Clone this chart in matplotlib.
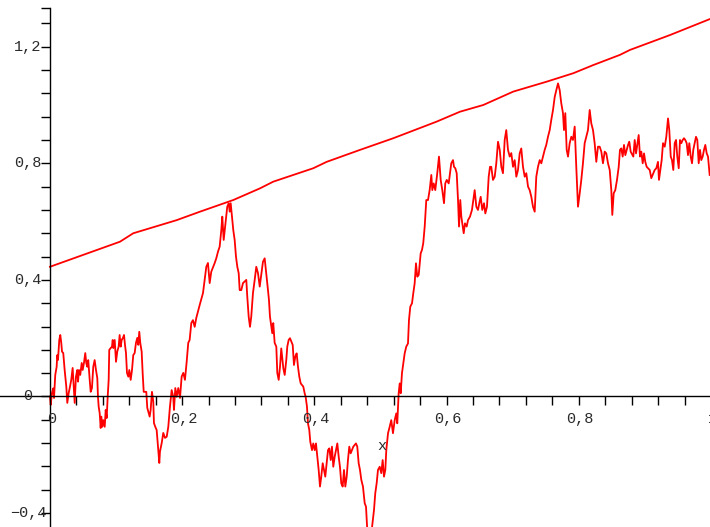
import numpy as np
import matplotlib.pyplot as plt
from matplotlib.ticker import MultipleLocator

# sampled Brownian path W(t) on [0, 1]
bm_t = [
    0.0000, 0.0011, 0.0030, 0.0050, 0.0061, 0.0080, 0.0101, 0.0110, 0.0121, 0.0141,
    0.0156, 0.0171, 0.0182, 0.0201, 0.0222, 0.0247, 0.0262, 0.0283, 0.0303, 0.0322,
    0.0343, 0.0359, 0.0374, 0.0393, 0.0413, 0.0424, 0.0439, 0.0458, 0.0480, 0.0495,
    0.0514, 0.0534, 0.0549, 0.0564, 0.0579, 0.0601, 0.0616, 0.0635, 0.0655, 0.0676,
    0.0696, 0.0716, 0.0726, 0.0737, 0.0752, 0.0767, 0.0776, 0.0791, 0.0806, 0.0828,
    0.0843, 0.0858, 0.0873, 0.0888, 0.0897, 0.0918, 0.0938, 0.0949, 0.0958, 0.0979,
    0.0999, 0.1018, 0.1039, 0.1054, 0.1070, 0.1085, 0.1104, 0.1120, 0.1135, 0.1150,
    0.1165, 0.1185, 0.1200, 0.1221, 0.1241, 0.1260, 0.1281, 0.1301, 0.1321, 0.1336,
    0.1351, 0.1366, 0.1387, 0.1402, 0.1418, 0.1457, 0.1472, 0.1493, 0.1508, 0.1523,
    0.1543, 0.1563, 0.1573, 0.1593, 0.1614, 0.1634, 0.1654,
    0.1664, 0.1690, 0.1714, 0.1740, 0.1766, 0.1790, 0.1815, 0.1841, 0.1865, 0.1876,
    0.1896, 0.1917, 0.1941, 0.1967, 0.1992, 0.2017, 0.2042, 0.2068, 0.2092, 0.2113,
    0.2138, 0.2163, 0.2189, 0.2213, 0.2265, 0.2315, 0.2365, 0.2390, 0.2416, 0.2440,
    0.2492, 0.2516, 0.2542, 0.2567, 0.2592, 0.2607, 0.2628, 0.2667, 0.2682, 0.2704,
    0.2719, 0.2734, 0.2753, 0.2773, 0.2794, 0.2814, 0.2834, 0.2855, 0.2870, 0.2894,
    0.2920, 0.2970, 0.2985, 0.3006, 0.3026, 0.3045, 0.3071, 0.3097, 0.3121, 0.3147,
    0.3173, 0.3222, 0.3248, 0.3272, 0.3298, 0.3313, 0.3328,
    0.3363, 0.3378, 0.3399, 0.3424, 0.3439, 0.3460, 0.3480, 0.3499, 0.3530, 0.3551,
    0.3575, 0.3590, 0.3611, 0.3631, 0.3672, 0.3691, 0.3711, 0.3732, 0.3752, 0.3772,
    0.3793, 0.3832, 0.3853, 0.3868, 0.3888, 0.3903, 0.3923, 0.3938, 0.3964, 0.3983,
    0.4005, 0.4024, 0.4044, 0.4065, 0.4085, 0.4104, 0.4126, 0.4165, 0.4186, 0.4206,
    0.4226, 0.4247, 0.4266, 0.4286, 0.4307, 0.4347, 0.4368, 0.4387, 0.4407, 0.4428,
    0.4448, 0.4468, 0.4489, 0.4508, 0.4528, 0.4549, 0.4589, 0.4629, 0.4649, 0.4670,
    0.4690, 0.4710, 0.4735, 0.4761, 0.4781, 0.4800, 0.4826, 0.4852, 0.4871, 0.4902,
    0.4921, 0.4942, 0.4962,
    0.4988, 0.5012, 0.5033, 0.5053, 0.5073, 0.5088, 0.5114, 0.5139, 0.5163, 0.5189,
    0.5215, 0.5239, 0.5254, 0.5275, 0.5291, 0.5306, 0.5325, 0.5345, 0.5366, 0.5390,
    0.5416, 0.5431, 0.5451, 0.5477, 0.5496, 0.5517, 0.5537, 0.5557, 0.5578, 0.5608,
    0.5628, 0.5647, 0.5669, 0.5693, 0.5719, 0.5744, 0.5769, 0.5784, 0.5805, 0.5829,
    0.5859, 0.5885, 0.5911, 0.5935, 0.5961, 0.5980, 0.6002, 0.6032, 0.6052, 0.6071,
    0.6097, 0.6112, 0.6132, 0.6153, 0.6173, 0.6188, 0.6207, 0.6223, 0.6244, 0.6259,
    0.6278, 0.6304, 0.6324, 0.6354, 0.6384, 0.6425, 0.6450, 0.6475, 0.6495, 0.6516,
    0.6540, 0.6566, 0.6586, 0.6611, 0.6637, 0.6657,
    0.6676, 0.6702, 0.6728, 0.6752, 0.6778, 0.6804, 0.6828, 0.6853, 0.6879, 0.6903,
    0.6929, 0.6955, 0.6979, 0.7005, 0.7030, 0.7055, 0.7080, 0.7106, 0.7130, 0.7156,
    0.7182, 0.7206, 0.7232, 0.7257, 0.7282, 0.7307, 0.7333, 0.7357, 0.7383, 0.7409,
    0.7433, 0.7459, 0.7484, 0.7508, 0.7534, 0.7560, 0.7584, 0.7610, 0.7636, 0.7660,
    0.7686, 0.7711, 0.7735, 0.7761, 0.7776, 0.7796, 0.7817, 0.7837, 0.7862, 0.7887,
    0.7912, 0.7938, 0.7962, 0.7988, 0.8014, 0.8038, 0.8063, 0.8089, 0.8113, 0.8139,
    0.8165, 0.8189, 0.8215, 0.8240, 0.8265, 0.8290,
    0.8316, 0.8341, 0.8366, 0.8392, 0.8416, 0.8442, 0.8468, 0.8492, 0.8507, 0.8528,
    0.8552, 0.8578, 0.8604, 0.8623, 0.8643, 0.8664, 0.8684, 0.8704, 0.8725, 0.8745,
    0.8764, 0.8785, 0.8825, 0.8846, 0.8866, 0.8906, 0.8926, 0.8946, 0.8967, 0.8987,
    0.9006, 0.9027, 0.9073, 0.9097, 0.9148, 0.9173, 0.9198, 0.9213, 0.9233, 0.9254,
    0.9274, 0.9300, 0.9324, 0.9350, 0.9369, 0.9391, 0.9410, 0.9430, 0.9451, 0.9471,
    0.9490, 0.9512, 0.9531, 0.9551, 0.9572, 0.9592, 0.9611, 0.9632, 0.9652, 0.9672,
    0.9693, 0.9713, 0.9732, 0.9753, 0.9773, 0.9793, 0.9814, 0.9834, 0.9853, 0.9874,
    0.9894, 0.9914, 0.9935, 0.9955, 0.9980,
]
bm_w = [
    0.000, -0.029, 0.012, 0.028, -0.005, 0.074, 0.102, 0.142, 0.125, 0.194,
    0.211, 0.184, 0.154, 0.149, 0.091, 0.034, -0.022, 0.012, 0.034, 0.057,
    0.098, 0.034, -0.022, 0.068, 0.091, 0.051, 0.091, 0.074, 0.115, 0.091,
    0.115, 0.149, 0.115, 0.102, 0.125, 0.057, 0.016, 0.029, 0.102, 0.125,
    0.091, 0.063, -0.001, -0.035, -0.057, -0.108, -0.069, -0.104, -0.081, -0.104,
    -0.046, -0.074, -0.001, 0.057, 0.160, 0.166, 0.171, 0.194, 0.166, 0.194,
    0.119, 0.154, 0.171, 0.211, 0.171, 0.194, 0.201, 0.211, 0.177, 0.149,
    0.081, 0.068, 0.091, 0.057, 0.091, 0.142, 0.149, 0.184, 0.201, 0.177,
    0.222, 0.184, 0.154, 0.081, 0.016, 0.016, -0.039, -0.057, -0.069, -0.046,
    0.016, -0.018, -0.091, -0.104, -0.115, -0.172, -0.228,
    -0.189, -0.160, -0.125, -0.142, -0.138, -0.104, -0.035, 0.022, -0.001, -0.046,
    0.029, -0.001, 0.029, -0.005, 0.068, 0.081, 0.057, 0.119, 0.184, 0.194,
    0.252, 0.262, 0.239, 0.269, 0.314, 0.355, 0.445, 0.458, 0.389, 0.428,
    0.458, 0.474, 0.497, 0.514, 0.571, 0.617, 0.537, 0.617, 0.651, 0.663,
    0.634, 0.663, 0.617, 0.571, 0.537, 0.480, 0.445, 0.423, 0.365, 0.365,
    0.389, 0.400, 0.342, 0.274, 0.239, 0.274, 0.355, 0.400, 0.445, 0.423,
    0.377, 0.462, 0.474, 0.423, 0.365, 0.331, 0.274,
    0.217, 0.252, 0.184, 0.171, 0.081, 0.057, 0.102, 0.165, 0.097, 0.074,
    0.125, 0.171, 0.194, 0.200, 0.177, 0.108, 0.137, 0.148, 0.102, 0.068,
    0.045, 0.034, 0.011, -0.001, -0.035, -0.092, -0.115, -0.155, -0.184, -0.161,
    -0.184, -0.161, -0.207, -0.252, -0.309, -0.275, -0.229, -0.275, -0.229, -0.184,
    -0.178, -0.218, -0.172, -0.241, -0.207, -0.161, -0.207, -0.241, -0.298, -0.309,
    -0.252, -0.309, -0.275, -0.218, -0.172, -0.195, -0.172, -0.161, -0.172, -0.229,
    -0.252, -0.286, -0.309, -0.366, -0.378, -0.458, -0.451, -0.458, -0.451, -0.389,
    -0.332, -0.298, -0.252,
    -0.241, -0.263, -0.218, -0.275, -0.252, -0.184, -0.126, -0.104, -0.081, -0.126,
    -0.081, -0.058, -0.092, 0.011, 0.045, 0.011, 0.080, 0.114, 0.148, 0.171,
    0.182, 0.262, 0.308, 0.320, 0.354, 0.388, 0.457, 0.411, 0.417, 0.491,
    0.503, 0.526, 0.583, 0.674, 0.674, 0.708, 0.760, 0.708, 0.731, 0.708,
    0.766, 0.823, 0.743, 0.708, 0.663, 0.731, 0.743, 0.731, 0.766, 0.800,
    0.811, 0.788, 0.783, 0.766, 0.674, 0.583, 0.674, 0.617, 0.583, 0.560,
    0.594, 0.583, 0.605, 0.617, 0.640, 0.708, 0.651, 0.640, 0.663, 0.685,
    0.640, 0.663, 0.628, 0.651, 0.754, 0.788,
    0.788, 0.743, 0.754, 0.800, 0.874, 0.846, 0.788, 0.766, 0.880, 0.914,
    0.846, 0.823, 0.835, 0.788, 0.811, 0.754, 0.777, 0.834, 0.851, 0.788,
    0.754, 0.766, 0.720, 0.708, 0.685, 0.651, 0.634, 0.754, 0.788, 0.811,
    0.800, 0.823, 0.846, 0.863, 0.891, 0.914, 0.949, 0.983, 1.028, 1.051,
    1.074, 1.051, 1.006, 0.972, 0.914, 0.972, 0.846, 0.823, 0.869, 0.891,
    0.880, 0.926, 0.788, 0.651, 0.697, 0.743, 0.800, 0.869, 0.891, 0.914,
    0.983, 0.937, 0.914, 0.869, 0.805, 0.857,
    0.857, 0.840, 0.800, 0.840, 0.834, 0.800, 0.777, 0.708, 0.623, 0.697,
    0.708, 0.743, 0.788, 0.846, 0.851, 0.823, 0.863, 0.828, 0.846, 0.863,
    0.874, 0.840, 0.823, 0.880, 0.834, 0.897, 0.823, 0.840, 0.800, 0.834,
    0.805, 0.788, 0.777, 0.749, 0.777, 0.783, 0.805, 0.743, 0.777, 0.811,
    0.869, 0.857, 0.891, 0.954, 0.914, 0.823, 0.811, 0.777, 0.869, 0.880,
    0.823, 0.783, 0.880, 0.869, 0.880, 0.886, 0.880, 0.869, 0.828, 0.869,
    0.823, 0.800, 0.846, 0.869, 0.891, 0.880, 0.800, 0.846, 0.811, 0.823,
    0.846, 0.863, 0.834, 0.823, 0.760,
]

# upper bounding curve
env_t = [0.0, 0.1059, 0.1260, 0.1917, 0.2269, 0.2773, 0.3177, 0.3378, 0.3983, 0.4186,
         0.4690, 0.5194, 0.5850, 0.6203, 0.6555, 0.7009, 0.7514, 0.7917, 0.8219, 0.8623,
         0.8775, 0.9380, 0.9985]
env_y = [0.445, 0.531, 0.560, 0.605, 0.634, 0.674, 0.714, 0.737, 0.783, 0.805,
         0.846, 0.886, 0.943, 0.977, 1.000, 1.046, 1.080, 1.109, 1.137, 1.172,
         1.189, 1.240, 1.295]

x_tick_vals = [0, 0.2, 0.4, 0.6, 0.8, 1.0]
x_tick_text = ['0', '0,2', '0,4', '0,6', '0,8', '1']
y_tick_vals = [-0.4, 0, 0.4, 0.8, 1.2]
y_tick_text = ['\u22120,4', '0', '0,4', '0,8', '1,2']

x_min, x_max = -0.0756, 0.9985
y_min, y_max = -0.4477, 1.3602
y_axis_top = 1.332

mono = ['Liberation Mono', 'DejaVu Sans Mono']
txt_color = '#2a2a2a'

fig = plt.figure(figsize=(7.1, 5.27), dpi=100)
ax = fig.add_axes([0, 0, 1, 1])
ax.set_xlim(x_min, x_max)
ax.set_ylim(y_min, y_max)

ax.plot(env_t, env_y, color='#ff0000', lw=1.3, solid_joinstyle='round')
ax.plot(bm_t, bm_w, color='#ff0000', lw=1.3, solid_joinstyle='round')

# axes through the origin
for side in ['top', 'right']:
    ax.spines[side].set_visible(False)
ax.spines['left'].set_position(('data', 0))
ax.spines['bottom'].set_position(('data', 0))
ax.spines['left'].set_bounds(y_min, y_axis_top)
for side in ['left', 'bottom']:
    ax.spines[side].set_linewidth(1.0)
    ax.spines[side].set_color('black')

ax.xaxis.set_major_locator(MultipleLocator(0.04))
ax.yaxis.set_major_locator(MultipleLocator(0.08))
ax.tick_params(axis='both', direction='out', length=6.5, width=1.0, color='black',
               labelbottom=False, labelleft=False)
ax.set_yticks(list(np.arange(-0.4, 1.30, 0.08)) + [y_axis_top])
ax.set_xticks(np.arange(0.04, 0.99, 0.04))

for v, s in zip(x_tick_vals, x_tick_text):
    ax.annotate(s, xy=(v, 0), xytext=(1.5, -22.5), textcoords='offset pixels',
                ha='center', va='center', fontsize=11, family=mono, color=txt_color,
                annotation_clip=False)
for v, s in zip(y_tick_vals, y_tick_text):
    ax.annotate(s, xy=(0, v), xytext=(-22, 0), textcoords='offset pixels',
                ha='center', va='center', fontsize=11, family=mono, color=txt_color,
                annotation_clip=False)

ax.annotate('x', xy=(0.5, 0), xytext=(1, -50), textcoords='offset pixels',
            ha='center', va='center', fontsize=11, family=mono, color=txt_color)

fig.savefig('out.png', dpi=100)
